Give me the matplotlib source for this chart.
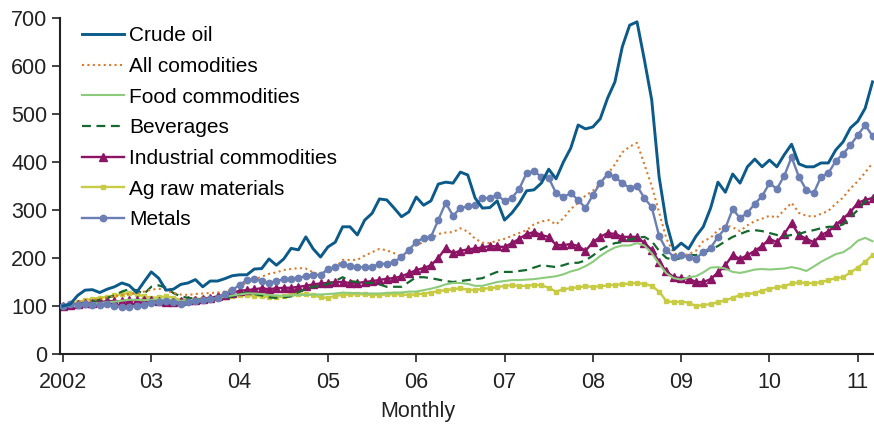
import numpy as np
import matplotlib.pyplot as plt

plt.rcParams['font.family'] = ['Liberation Sans', 'DejaVu Sans']

# monthly index values, Jan 2002 = 100, Jan 2002 .. Mar 2011
crude_oil = [100, 104, 122, 133, 134, 128, 135, 140, 148, 143, 128, 150,
             171, 158, 133, 135, 145, 148, 155, 140, 152, 152, 157, 163,
             165, 165, 177, 178, 198, 185, 198, 220, 217, 244, 219, 202,
             223, 233, 265, 265, 248, 279, 293, 323, 321, 304, 286, 296,
             327, 310, 319, 354, 358, 356, 379, 373, 325, 304, 305, 319,
             279, 294, 314, 340, 342, 356, 385, 365, 400, 429, 477, 469,
             473, 490, 533, 567, 640, 685, 692, 613, 529, 369, 273, 217,
             231, 219, 245, 265, 304, 358, 337, 375, 356, 390, 406, 390,
             404, 390, 415, 437, 396, 390, 390, 398, 398, 425, 442, 471,
             485, 512, 567]
all_commodities = [100, 103, 108, 110, 112, 115, 118, 120, 123, 125, 127, 130,
                   134, 136, 133, 127, 124, 123, 125, 126, 127, 128, 130, 135,
                   142, 148, 155, 161, 167, 170, 175, 177, 179, 178, 170, 165,
                   175, 180, 196, 196, 196, 205, 212, 219, 216, 210, 202, 210,
                   227, 233, 240, 250, 253, 254, 262, 255, 240, 232, 231, 236,
                   240, 246, 252, 258, 270, 276, 279, 270, 283, 302, 315, 330,
                   340, 355, 375, 395, 420, 432, 440, 395, 350, 295, 240, 210,
                   205, 208, 215, 235, 242, 258, 268, 264, 256, 268, 277, 282,
                   288, 284, 300, 315, 294, 288, 286, 292, 298, 313, 326, 345,
                   360, 378, 398]
food = [100, 101, 103, 104, 105, 106, 108, 109, 111, 113, 113, 112,
        113, 114, 113, 112, 111, 112, 113, 114, 115, 117, 119, 122,
        124, 126, 126, 125, 123, 122, 121, 122, 123, 123, 124, 124,
        125, 126, 128, 127, 127, 126, 126, 126, 127, 128, 128, 130,
        130, 133, 136, 140, 145, 148, 148, 146, 142, 142, 146, 150,
        152, 154, 154, 155, 156, 158, 160, 162, 166, 172, 176, 183,
        192, 204, 214, 222, 226, 226, 231, 226, 210, 188, 168, 158,
        155, 160, 162, 170, 180, 181, 178, 171, 169, 172, 176, 177,
        176, 177, 178, 181, 178, 173, 182, 192, 200, 208, 212, 222,
        236, 242, 235]
beverages = [100, 102, 105, 107, 110, 113, 117, 122, 130, 135, 133, 125,
             140, 143, 138, 127, 120, 117, 115, 113, 113, 115, 117, 120,
             125, 128, 125, 122, 118, 117, 118, 120, 129, 135, 140, 142,
             146, 152, 160, 152, 150, 148, 148, 145, 140, 140, 140, 150,
             160, 160, 158, 155, 152, 150, 152, 154, 156, 158, 165, 171,
             171, 171, 173, 175, 180, 185, 183, 181, 185, 190, 190, 195,
             205, 217, 225, 231, 233, 238, 242, 244, 235, 215, 200, 196,
             200, 206, 206, 210, 218, 225, 235, 244, 250, 256, 258, 256,
             252, 248, 245, 248, 250, 255, 258, 262, 265, 265, 270, 285,
             300, 318, 327]
industrial = [100, 102, 104, 106, 107, 108, 110, 110, 110, 112, 112, 113,
              112, 110, 108, 108, 110, 112, 113, 115, 117, 120, 123, 127,
              132, 133, 135, 137, 135, 137, 138, 138, 140, 142, 145, 147,
              148, 150, 150, 148, 148, 150, 152, 154, 157, 158, 162, 168,
              175, 179, 185, 200, 221, 210, 215, 218, 220, 222, 225, 224,
              223, 231, 240, 250, 254, 248, 244, 227, 227, 229, 225, 215,
              233, 244, 252, 250, 244, 244, 244, 231, 217, 192, 172, 160,
              158, 157, 150, 150, 156, 170, 185, 206, 198, 206, 215, 225,
              240, 233, 250, 273, 248, 240, 233, 248, 255, 269, 282, 296,
              315, 321, 325]
ag_raw = [100, 104, 108, 112, 115, 117, 119, 122, 125, 127, 125, 120,
          117, 118, 120, 117, 113, 112, 114, 116, 117, 118, 119, 120,
          123, 123, 121, 120, 119, 118, 120, 124, 126, 124, 123, 118,
          117, 121, 123, 124, 125, 124, 123, 123, 124, 125, 124, 123,
          124, 126, 128, 131, 133, 135, 137, 134, 133, 136, 137, 139,
          142, 143, 142, 142, 144, 143, 138, 130, 135, 137, 139, 141,
          140, 141, 143, 144, 145, 147, 148, 146, 142, 130, 110, 108,
          109, 107, 100, 102, 104, 108, 112, 117, 123, 125, 127, 132,
          136, 139, 141, 147, 149, 148, 147, 150, 154, 158, 160, 170,
          180, 192, 206]
metals = [100, 104, 103, 104, 103, 102, 104, 100, 98, 98, 100, 103,
          106, 108, 110, 108, 104, 108, 110, 113, 115, 117, 125, 133,
          144, 154, 156, 152, 148, 152, 156, 156, 158, 163, 165, 165,
          177, 181, 188, 183, 181, 181, 181, 188, 188, 192, 202, 217,
          233, 242, 244, 279, 315, 288, 304, 308, 310, 325, 325, 331,
          319, 325, 344, 377, 381, 369, 367, 335, 327, 335, 321, 304,
          331, 356, 375, 369, 356, 346, 350, 325, 306, 246, 217, 202,
          206, 202, 198, 213, 221, 244, 262, 302, 283, 294, 313, 329,
          356, 344, 371, 410, 369, 342, 335, 369, 377, 402, 417, 435,
          456, 477, 454]

year_ticks = [2002, 2003, 2004, 2005, 2006, 2007, 2008, 2009, 2010, 2011]
year_labels = ['2002', '03', '04', '05', '06', '07', '08', '09', '10', '11']
y_ticks = [0, 100, 200, 300, 400, 500, 600, 700]

t = 2002 + np.arange(len(crude_oil)) / 12.0

fig = plt.figure(figsize=(8.74, 4.25), dpi=100)
ax = fig.add_axes([60 / 874, 71 / 425, 814 / 874, 336 / 425])

ax.plot(t, metals, color='#6b7fb5', lw=1.7, marker='o', ms=4.6, label='Metals', zorder=3)
ax.plot(t, ag_raw, color='#c8cc45', lw=1.7, marker='s', ms=3.4, label='Ag raw materials', zorder=2)
ax.plot(t, industrial, color='#8c1464', lw=1.7, marker='^', ms=5.2, label='Industrial commodities', zorder=2)
ax.plot(t, beverages, color='#16692e', lw=1.6, ls=(0, (4, 2.5)), label='Beverages', zorder=2)
ax.plot(t, food, color='#8ccb7c', lw=1.5, label='Food commodities', zorder=2)
ax.plot(t, all_commodities, color='#db7a2c', lw=1.5, ls=(0, (1, 1.6)), label='All comodities', zorder=2)
ax.plot(t, crude_oil, color='#0b5a8a', lw=2.1, label='Crude oil', zorder=4)

ax.set_xlim(2002 - 0.4 / 12, 2002 + 110.2 / 12)
ax.set_ylim(0, 700)
ax.set_xticks(year_ticks)
ax.set_xticklabels(year_labels)
ax.set_yticks(y_ticks)
ax.tick_params(labelsize=15.5, length=6, width=1.2, colors='#222222', pad=3)
ax.tick_params(axis='x', pad=7)
for side in ['top', 'right']:
    ax.spines[side].set_visible(False)
for side in ['left', 'bottom']:
    ax.spines[side].set_linewidth(1.5)
    ax.spines[side].set_color('#222222')

handles, labels = ax.get_legend_handles_labels()
ax.legend(handles[::-1], labels[::-1], loc='upper left', bbox_to_anchor=(14 / 814, 1.0),
          frameon=False, fontsize=15, handlelength=2.0, handletextpad=0.25,
          labelspacing=0.56, borderaxespad=0)

fig.text(418 / 874, 1 - 411 / 425, 'Monthly', ha='center', va='center',
         fontsize=15.5, color='#222222')

fig.savefig('out.png', dpi=100)
